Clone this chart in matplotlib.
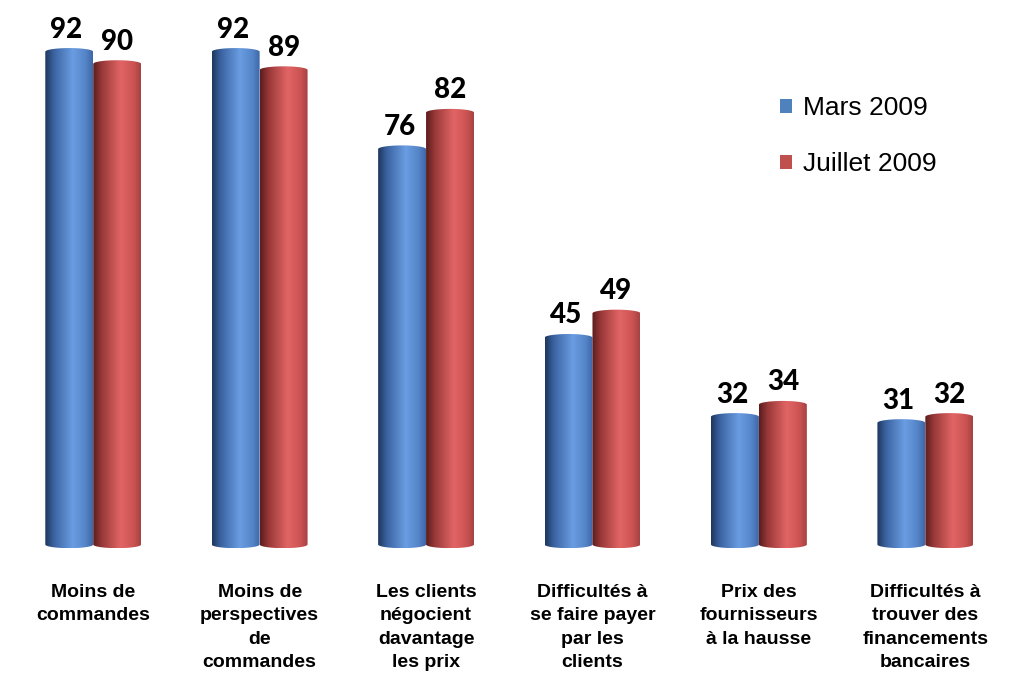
import numpy as np
import matplotlib.pyplot as plt
from matplotlib.path import Path
from matplotlib.patches import PathPatch, Patch
from matplotlib.colors import LinearSegmentedColormap
import matplotlib.transforms as mtransforms

# données
categories = [
    "Moins de\ncommandes",
    "Moins de\nperspectives\nde\ncommandes",
    "Les clients\nnégocient\ndavantage\nles prix",
    "Difficultés à\nse faire payer\npar les\nclients",
    "Prix des\nfournisseurs\nà la hausse",
    "Difficultés à\ntrouver des\nfinancements\nbancaires",
]
mars_2009 = [92, 92, 76, 45, 32, 31]
juillet_2009 = [90, 89, 82, 49, 34, 32]
series_labels = ["Mars 2009", "Juillet 2009"]

# dégradés "cylindre"
cmap_bleu = LinearSegmentedColormap.from_list("bleu", [
    (0.0, "#1e365c"), (0.18, "#3a62a0"), (0.58, "#6a9de2"),
    (0.85, "#5584c8"), (1.0, "#3d67a6")])
cmap_rouge = LinearSegmentedColormap.from_list("rouge", [
    (0.0, "#5a1c1c"), (0.18, "#983838"), (0.58, "#e26565"),
    (0.85, "#cc5252"), (1.0, "#a44242")])
legend_colors = ["#4F81BD", "#C0504D"]

fig = plt.figure(figsize=(10.21, 6.79), dpi=100)
ax = fig.add_axes([0.0098, 0.19, 0.978, 0.81])

x = np.arange(len(categories))
w = 0.288
base = 11.0
h = 0.6  # demi-hauteur de l'ellipse
theta = np.linspace(np.pi, 0, 40)
grad = np.linspace(0, 1, 256).reshape(1, -1)


def cylindre(cx, top, cmap):
    left, right = cx - w / 2, cx + w / 2
    top_x = cx + w / 2 * np.cos(theta)
    top_y = top + h * np.sin(theta)
    bot_x = cx + w / 2 * np.cos(theta[::-1])
    bot_y = base - h * np.sin(theta[::-1])
    xs = np.concatenate([[left], top_x, [right], bot_x])
    ys = np.concatenate([[base], top_y, [base], bot_y])
    verts = np.column_stack([xs, ys])
    path = Path(np.vstack([verts, verts[:1]]))
    patch = PathPatch(path, facecolor="none", edgecolor="none")
    ax.add_patch(patch)
    im = ax.imshow(grad, cmap=cmap, aspect="auto",
                   extent=(left, right, base - h, top + h),
                   interpolation="bicubic", zorder=2)
    im.set_clip_path(patch)


for i in x:
    cylindre(i - w / 2, mars_2009[i], cmap_bleu)
    cylindre(i + w / 2, juillet_2009[i], cmap_rouge)

# étiquettes de valeurs
for i in x:
    for dx, v in [(-w / 2, mars_2009[i]), (w / 2, juillet_2009[i])]:
        ax.annotate(str(v), (i + dx, v + h), xytext=(-2 if dx < 0 else 0, 4),
                    textcoords="offset points", ha="center", va="bottom",
                    fontsize=20, fontweight="black", family="Lato")

# libellés des catégories
trans = mtransforms.blended_transform_factory(ax.transData, ax.transAxes)
for i, c in enumerate(categories):
    ax.text(i, -0.062, c, transform=trans, ha="center", va="top",
            fontsize=14, fontweight="bold", family="Liberation Sans",
            linespacing=1.48)

ax.set_xlim(-0.5, 5.5)
ax.set_ylim(10.1, 100.5)
ax.axis("off")

handles = [Patch(facecolor=c, edgecolor="none") for c in legend_colors]
fig.legend(handles, series_labels, loc="upper left",
           bbox_to_anchor=(0.741, 0.893), frameon=False,
           prop={"family": "Liberation Sans", "size": 19},
           handlelength=0.45, handleheight=0.45, handletextpad=0.4,
           labelspacing=1.2)

fig.savefig("out.png", dpi=100)
